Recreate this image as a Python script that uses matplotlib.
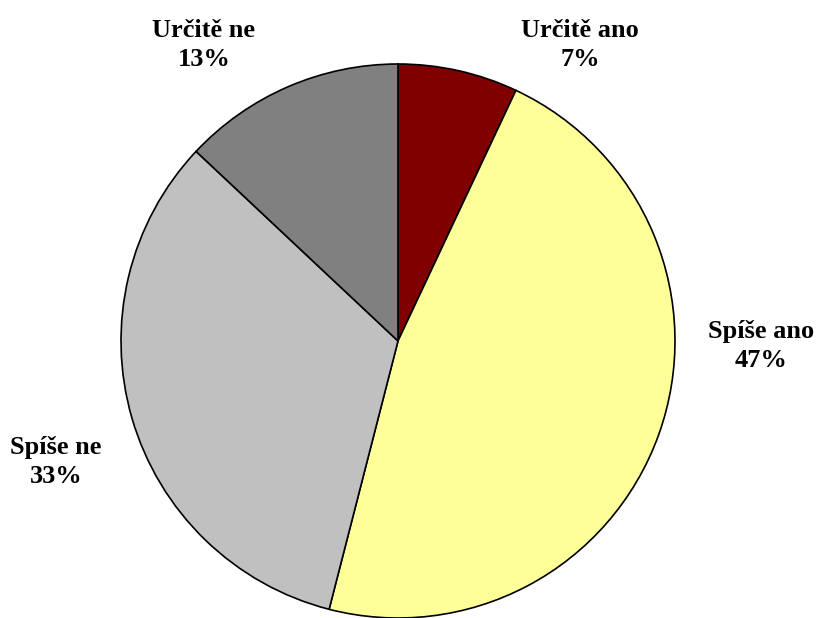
import matplotlib
matplotlib.use("Agg")
import matplotlib.pyplot as plt

categories = ["Určitě ano", "Spíše ano", "Spíše ne", "Určitě ne"]
values = [7, 47, 33, 13]
colors = ["#800000", "#FFFF99", "#C0C0C0", "#808080"]

W, H = 816, 618
fig = plt.figure(figsize=(W / 100, H / 100), dpi=100)
fig.patch.set_facecolor("white")

cx, cy, r = 398, 341, 277
ax = fig.add_axes([(cx - r) / W, (H - cy - r) / H, 2 * r / W, 2 * r / H])
ax.pie(values, colors=colors, startangle=90, counterclock=False,
       wedgeprops=dict(edgecolor="black", linewidth=1.2), radius=1.0)
ax.set_xlim(-1, 1)
ax.set_ylim(-1, 1)
ax.set_aspect("equal")
ax.axis("off")

label_pos = [(580, 45), (761, 346), (56, 462), (204, 45)]
for cat, v, (px, py) in zip(categories, values, label_pos):
    fig.text(px / W, 1 - py / H, f"{cat}\n{v}%", ha="center", va="center",
             fontsize=19, fontweight="bold", family="Liberation Serif",
             linespacing=1.35)

fig.savefig("out.png", dpi=100)
